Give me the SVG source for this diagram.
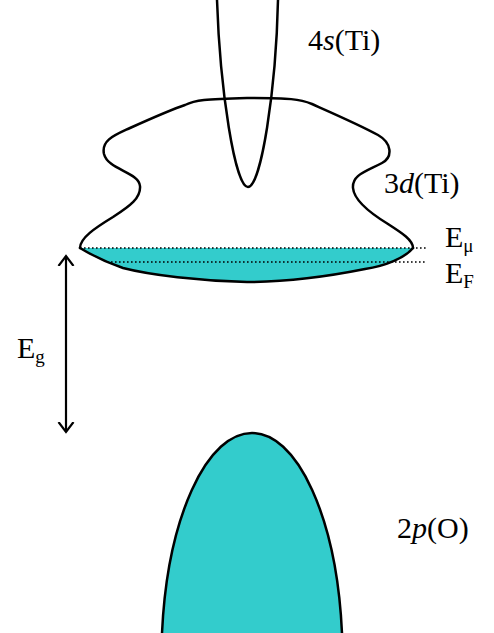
<svg xmlns="http://www.w3.org/2000/svg" width="494" height="633" viewBox="0 0 494 633">
<defs>
<style>
.ol{fill:none;stroke:#000;stroke-width:2.5;stroke-linejoin:round;stroke-linecap:round}
.cy{fill:#33CCCC;stroke:none}
.dot{fill:none;stroke:#000;stroke-width:1.6;stroke-dasharray:1.6 2.4}
.lb{font-family:"Liberation Serif","Times New Roman",serif;font-size:30px;fill:#000}
.sub{font-size:19px}
</style>
<marker id="ah" viewBox="0 0 20 20" refX="10" refY="10" markerWidth="20" markerHeight="20" markerUnits="userSpaceOnUse" orient="auto-start-reverse">
<polyline points="0,2.5 10,10 0,17.5" fill="none" stroke="#000" stroke-width="2.2"/>
</marker>
</defs>
<rect width="494" height="633" fill="#fff"/>
<g id="band-2p">
<path class="cy" d="M162,633 A90.6,226 0 0 1 342,633 Z"/>
<path class="ol" d="M162,633 A90.6,226 0 0 1 342,633"/>
</g>
<g id="band-3d">
<path class="cy" d="M80,248 L413,248 C405,258 385,266 365,269 C330,276 290,282 247,282 C200,281 150,275 123,268 C105,262 90,254 80,248 Z"/>
<path class="ol" d="M413,248 C405,258 385,266 365,269 C330,276 290,282 247,282 C200,281 150,275 123,268 C105,262 90,254 80,248"/>
<path class="ol" d="M80,248 C80,238 95,228 113,217 C130,206 141,198 140,186 C139,172 108,170 104,154 C101,140 115,135 130,128 C150,119 170,110 185,105 C195,100 205,99 247,98 C290,98 300,99 312,104 C330,112 360,125 378,135 C392,143 393,157 382,163 C365,172 352,175 353,188 C354,200 370,213 388,224 C402,233 413,240 413,248"/>
</g>
<g id="band-4s">
<path class="ol" d="M217,0 C220,90 235,187 248,187 C261,187 276,90 278,0"/>
</g>
<g id="connectors">
<line class="dot" x1="80" y1="248" x2="426" y2="248"/>
<line class="dot" x1="107" y1="262" x2="426" y2="262"/>
<line x1="66" y1="256" x2="66" y2="432" stroke="#000" stroke-width="2.2" marker-start="url(#ah)" marker-end="url(#ah)"/>
</g>
<g id="labels">
<text class="lb" x="308" y="50">4<tspan font-style="italic">s</tspan>(Ti)</text>
<text class="lb" x="384" y="193">3<tspan font-style="italic">d</tspan>(Ti)</text>
<text class="lb" x="397" y="538">2<tspan font-style="italic">p</tspan>(O)</text>
<text class="lb" x="445" y="247">E<tspan class="sub" dy="5">μ</tspan></text>
<text class="lb" x="445" y="283">E<tspan class="sub" dy="5">F</tspan></text>
<text class="lb" x="17" y="358">E<tspan class="sub" dy="5">g</tspan></text>
</g>
</svg>
